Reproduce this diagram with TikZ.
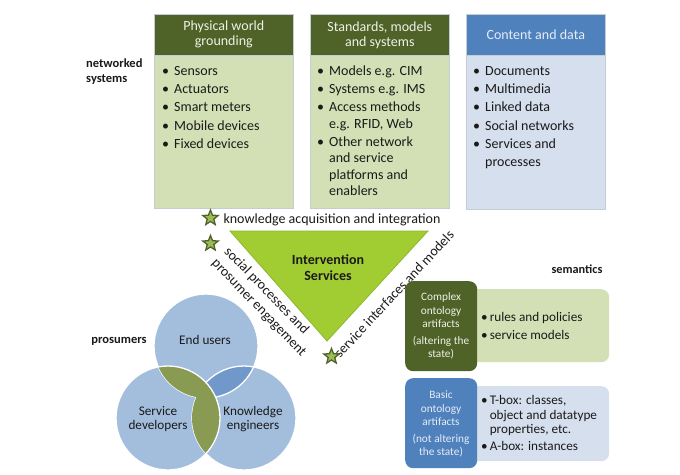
\documentclass[tikz,border=0pt]{standalone}
\usepackage{fontspec}
\setmainfont{Carlito}
\usetikzlibrary{shapes.geometric}
\definecolor{olivedark}{HTML}{4F6228}
\definecolor{greenbody}{HTML}{D3E0B5}
\definecolor{bluehead}{HTML}{4F81BD}
\definecolor{bluebody}{HTML}{D6DFEE}
\definecolor{trifill}{HTML}{A2CD32}
\definecolor{triline}{HTML}{8DB82A}
\definecolor{starfill}{HTML}{9BBB59}
\definecolor{circfill}{HTML}{A3BEDD}
\definecolor{circdark}{HTML}{7098CB}
\definecolor{circolive}{HTML}{899B52}
\definecolor{boxline}{HTML}{C4CCD6}
\definecolor{headtxt}{HTML}{EEF2E6}
\definecolor{bluetxt}{HTML}{E6ECF6}
\definecolor{txt}{HTML}{1A1A1A}
\newcommand{\lstfont}{\fontsize{14}{16.3}\selectfont}
\newcommand{\semfont}{\fontsize{13.2}{14.7}\selectfont}
\newcommand{\smallfont}{\fontsize{11.3}{13.2}\selectfont}
\begin{document}
\begin{tikzpicture}[x=1pt,y=-1pt,
  every node/.style={font=\fontsize{14}{15}\selectfont, text=txt},
  headbox/.style={draw=boxline, line width=0.6pt, minimum width=139pt, minimum height=41pt, anchor=north west, inner sep=0pt, align=center},
  bodybox/.style={draw=boxline, line width=0.6pt, minimum width=139pt, anchor=north west, inner sep=0pt},
  listnode/.style={anchor=base west, inner sep=0pt, font=\lstfont},
  starnode/.style={star, star points=5, star point ratio=2.3, minimum size=16pt, inner sep=0pt, fill=starfill, draw=olivedark, line width=1.3pt},
  boldlbl/.style={font=\fontsize{12.5}{15}\selectfont\bfseries, align=left},
  ontobox/.style={rounded corners=8pt, minimum width=72pt, minimum height=90pt, anchor=north west, inner sep=0pt},
  ontotxt/.style={font=\smallfont, align=center},
  lightbox/.style={rounded corners=8pt, anchor=north west, inner sep=0pt, minimum width=147pt},
  vennlbl/.style={font=\fontsize{13.2}{14}\selectfont, align=center}
]
\fill[white] (0,0) rectangle (680,474);
\useasboundingbox (0,0) rectangle (680,474);

% ---------- top boxes ----------
\node[bodybox, fill=greenbody, minimum height=153pt] (b1) at (154,55) {};
\node[headbox, fill=olivedark, text=headtxt] (h1) at (154,14) {Physical world\\grounding};
\node[bodybox, fill=greenbody, minimum height=153pt] (b2) at (310,55) {};
\node[headbox, fill=olivedark, text=headtxt] (h2) at (310,14) {Standards, models\\and systems};
\node[bodybox, fill=bluebody, minimum height=154pt] (b3) at (466,55) {};
\node[headbox, fill=bluehead, text=bluetxt] (h3) at (466,14) {Content and data};

\node[listnode] (l1) at (162,75.5) {\begin{tabular}[t]{@{}l@{\hspace{5pt}}l@{}}
\textbullet & Sensors\\[1.9pt]
\textbullet & Actuators\\[1.9pt]
\textbullet & Smart meters\\[1.9pt]
\textbullet & Mobile devices\\[1.9pt]
\textbullet & Fixed devices
\end{tabular}};
\node[listnode] (l2) at (317,75.5) {\begin{tabular}[t]{@{}l@{\hspace{5pt}}l@{}}
\textbullet & Models e.g. CIM\\[1.9pt]
\textbullet & Systems e.g. IMS\\[1.9pt]
\textbullet & Access methods\\
 & e.g. RFID, Web\\[1.9pt]
\textbullet & Other network\\
 & and service\\
 & platforms and\\
 & enablers
\end{tabular}};
\node[listnode] (l3) at (473,75.5) {\begin{tabular}[t]{@{}l@{\hspace{5pt}}l@{}}
\textbullet & Documents\\[1.9pt]
\textbullet & Multimedia\\[1.9pt]
\textbullet & Linked data\\[1.9pt]
\textbullet & Social networks\\[1.9pt]
\textbullet & Services and\\[1.5pt]
 & processes
\end{tabular}};

\node[boldlbl, anchor=west, inner sep=0pt] (nw) at (86,72) {networked\\systems};

% ---------- triangle ----------
\coordinate (tl) at (230,231);
\coordinate (tr) at (428,231);
\coordinate (tb) at (327,341);
\filldraw[fill=trifill, draw=triline, line width=0.8pt] (tl) -- (tr) -- (tb) -- cycle;
\node[font=\fontsize{14}{16}\selectfont\bfseries, align=center] (iv) at (328,268) {Intervention\\Services};

\node (kai) at (332,219.5) {knowledge acquisition and integration};
\node[rotate=-46, align=left, font=\fontsize{14}{17}\selectfont] (spe) at (265,302) {social processes and\\prosumer engagement};
\node[rotate=47, inner sep=0pt] (sim) at (394,294) {service interfaces and models};

\node[starnode] (s1) at (210.5,218) {};
\node[starnode] (s2) at (210.5,243.5) {};
\node[starnode] (s3) at (331.5,356.5) {};

% ---------- semantics ----------
\node[font=\fontsize{12.3}{13}\selectfont\bfseries] (sem) at (577,269) {semantics};

\node[lightbox, fill=greenbody, minimum height=73pt] (cl) at (462,289) {};
\node[ontobox, fill=olivedark] (cx) at (405,281) {};
\node[ontotxt, text=headtxt] (cxt) at (441,326) {Complex\\ontology\\artifacts\\[3.5pt](altering the\\state)};
\node[anchor=base west, inner sep=0pt, font=\semfont] (cll) at (481,321.5) {\begin{tabular}[t]{@{}l@{\hspace{2pt}}l@{}}
\textbullet & rules and policies\\[3.3pt]
\textbullet & service models
\end{tabular}};

\node[lightbox, fill=bluebody, minimum height=75pt] (bl) at (462,386) {};
\node[ontobox, fill=bluehead] (bx) at (405,378) {};
\node[ontotxt, text=bluetxt] (bxt) at (441,424) {Basic\\ontology\\artifacts\\[3.5pt](not altering\\the state)};
\node[anchor=base west, inner sep=0pt, font=\semfont] (bll) at (481,404.5) {\begin{tabular}[t]{@{}l@{\hspace{2pt}}l@{}}
\textbullet & T-box: classes,\\
 & object and datatype\\
 & properties, etc.\\[2pt]
\textbullet & A-box: instances
\end{tabular}};

% ---------- prosumers venn ----------
\def\ceu{(206,346) circle[radius=52]}
\def\csd{(168,418) circle[radius=52]}
\def\cke{(244,418) circle[radius=52]}
\fill[circfill] \ceu;
\fill[circfill] \cke;
\fill[circfill] \csd;
\begin{scope}
  \clip \ceu;
  \fill[circdark] \cke;
\end{scope}
\draw[white, line width=1.3pt] \ceu;
\draw[white, line width=1.3pt] \cke;
\begin{scope}
  \clip \csd;
  \fill[circolive] \ceu;
  \fill[circolive] \cke;
\end{scope}
\draw[white, line width=1.3pt] \csd;

\node[vennlbl] (eu) at (205,340) {End users};
\node[vennlbl] (sd) at (158,419) {Service\\developers};
\node[vennlbl] (ke) at (253,419) {Knowledge\\engineers};
\node[boldlbl] (pr) at (119,341) {prosumers};
\end{tikzpicture}
\end{document}
